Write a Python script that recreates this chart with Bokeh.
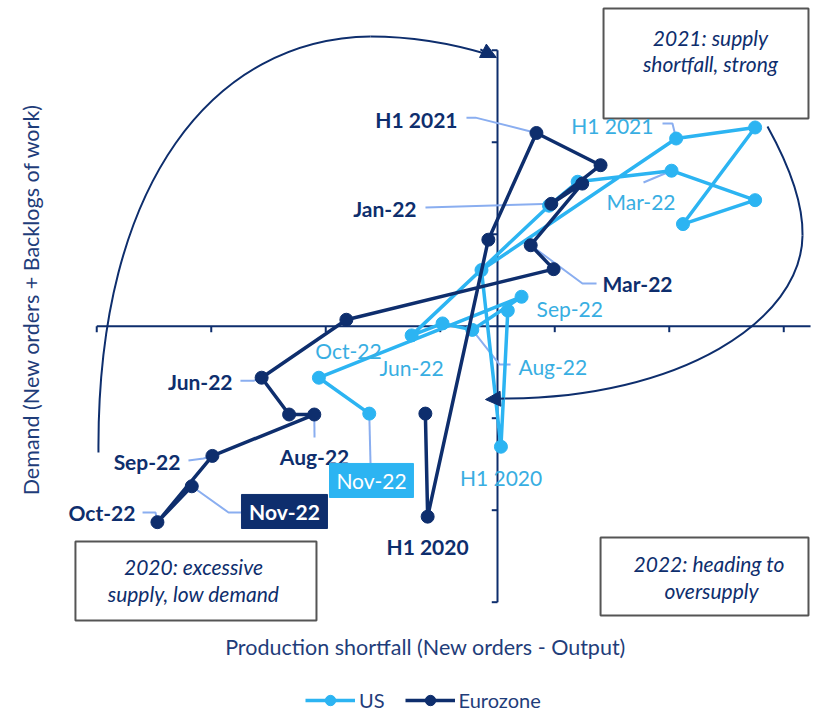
from bokeh.plotting import figure
from bokeh.models import Range1d, Legend, LegendItem, Arrow, NormalHead
from bokeh.core.properties import value
from bokeh.embed import file_html
from bokeh.resources import INLINE

# ---------------- data ----------------
periods = ["H2 2019", "H1 2020", "H2 2020", "H1 2021", "H2 2021", "Jan-22", "Feb-22",
           "Mar-22", "Apr-22", "May-22", "Jun-22", "Jul-22", "Aug-22", "Sep-22",
           "Oct-22", "Nov-22"]

# x: production shortfall (new orders - output), y: demand (new orders + backlogs)
us_x = [0.09, 0.03, -0.14, 1.56, 2.25, 1.62, 2.25, 1.52, 0.70, 0.45,
        -0.75, -0.48, -0.22, 0.21, -1.56, -1.12]
us_y = [0.17, -1.31, 0.61, 2.04, 2.16, 1.11, 1.37, 1.69, 1.57, 1.31,
        -0.10, 0.03, -0.04, 0.32, -0.56, -0.95]

ez_x = [-0.63, -0.61, -0.08, 0.34, 0.90, 0.47, 0.74, 0.29, 0.49, -1.32,
        -2.06, -1.82, -1.60, -2.49, -2.97, -2.67]
ez_y = [-0.95, -2.07, 0.94, 2.10, 1.75, 1.33, 1.55, 0.88, 0.62, 0.07,
        -0.56, -0.96, -0.96, -1.41, -2.13, -1.74]

x_ticks = [-3.5, -2.5, -1.5, -0.5, 0.5, 1.5, 2.5]
y_ticks = [-3, -2, -1, 1, 2, 3]

series_names = ["US", "Eurozone"]
x_title = "Production shortfall (New orders - Output)"
y_title = "Demand (New orders + Backlogs of work)"

# ---------------- style ----------------
NAVY = "#0E2E6D"
LIGHT = "#2CB4F2"
LIGHT_TXT = "#38AEE2"
LEADER = "#8AAEF0"
TITLE_C = "#1F3D7A"
FONT_NAME = "Lato"
FONT = value(FONT_NAME)
LBL = "21px"

p = figure(width=822, height=714, x_range=Range1d(-4.3406, 2.8384),
           y_range=Range1d(-4.2207, 3.5402), output_backend="svg",
           toolbar_location=None, x_axis_type=None, y_axis_type=None,
           min_border=0)
p.grid.visible = False
p.outline_line_color = None
p.background_fill_color = "white"

# ---------------- centre axes ----------------
x_end = 2.734
p.segment(x0=[-3.5], y0=[0], x1=[x_end], y1=[0], line_color=NAVY, line_width=2)
p.segment(x0=[0], y0=[y_ticks[0]], x1=[0], y1=[y_ticks[-1]], line_color=NAVY, line_width=2)
p.segment(x0=x_ticks, y0=[0] * len(x_ticks), x1=x_ticks, y1=[-0.065] * len(x_ticks),
          line_color=NAVY, line_width=2)
p.segment(x0=[0] * len(y_ticks), y0=y_ticks, x1=[-0.05] * len(y_ticks), y1=y_ticks,
          line_color=NAVY, line_width=2)

# ---------------- cycle arrows ----------------
p.bezier(x0=[-3.485, -1.109], y0=[-1.373, 3.149], x1=[-1.109, -0.079], y1=[3.149, 2.953],
         cx0=[-3.502, -0.672], cy0=[1.584, 3.149], cx1=[-2.463, -0.341], cy1=[3.127, 3.051],
         line_color=NAVY, line_width=2)
p.add_layout(Arrow(end=NormalHead(size=15, fill_color=NAVY, line_color=NAVY),
                   x_start=-0.15, y_start=3.008, x_end=-0.01, y_end=2.92,
                   line_color=NAVY, line_width=2))
p.bezier(x0=[2.358, 2.664], y0=[2.171, 0.986], x1=[2.664, 0.052], y1=[0.986, -0.786],
         cx0=[2.489, 2.655], cy0=[1.877, 0.062], cx1=[2.672, 1.598], cy1=[1.421, -0.786],
         line_color=NAVY, line_width=2)
p.add_layout(Arrow(end=NormalHead(size=15, fill_color=NAVY, line_color=NAVY),
                   x_start=0.06, y_start=-0.786, x_end=-0.105, y_end=-0.797,
                   line_color=NAVY, line_width=2))

# ---------------- regime boxes ----------------
p.quad(left=[0.926, -3.686, 0.900], right=[2.716, -1.581, 2.716],
       top=[3.453, -2.340, -2.297], bottom=[2.258, -3.199, -3.144],
       fill_color="white", line_color="#555555", line_width=2)


def txt(x, y, s, color=NAVY, size=LBL, style="normal", align="center"):
    p.text(x=[x], y=[y], text=[s], text_font=FONT, text_font_size=value(size),
           text_font_style=style, text_color=color, text_align=align,
           text_baseline="middle")


for (bx, by, s) in [(1.860, 3.138, "2021: supply"), (1.860, 2.855, "shortfall, strong"),
                    (-2.655, -2.616, "2020: excessive"), (-2.655, -2.910, "supply, low demand"),
                    (1.869, -2.584, "2022:  heading to"), (1.869, -2.873, "oversupply")]:
    txt(bx, by, s, style="italic", size="21px")

# axis titles
txt(-0.629, -3.492, x_title, color=TITLE_C, size="21.5px")
p.text(x=[-4.07], y=[0.29], text=[y_title], text_font=FONT, text_font_size=value("21.5px"),
       text_color=TITLE_C, text_align="center", text_baseline="middle", angle=1.5708)

# ---------------- leader lines ----------------
def leader(pts, idx, xs, ys):
    lx = [q[0] for q in pts] + [xs[idx]]
    ly = [q[1] for q in pts] + [ys[idx]]
    p.line(lx, ly, line_color=LEADER, line_width=2)


i = periods.index
leader([(-0.271, 2.267), (-0.192, 2.267)], i("H1 2021"), ez_x, ez_y)
leader([(-0.629, 1.290)], i("Jan-22"), ez_x, ez_y)
leader([(0.865, 0.464), (0.742, 0.464)], i("Mar-22"), ez_x, ez_y)
leader([(-2.245, -0.594), (-2.131, -0.594)], i("Jun-22"), ez_x, ez_y)
leader([(-1.598, -1.210)], i("Aug-22"), ez_x, ez_y)
leader([(-2.699, -1.460), (-2.568, -1.438)], i("Sep-22"), ez_x, ez_y)
leader([(-3.100, -2.025), (-2.987, -2.025)], i("Oct-22"), ez_x, ez_y)
leader([(-2.236, -2.025), (-2.349, -2.025)], i("Nov-22"), ez_x, ez_y)
leader([(1.441, 2.203), (1.528, 2.203)], i("H1 2021"), us_x, us_y)
leader([(1.275, 1.562)], i("Mar-22"), us_x, us_y)
leader([(0.114, -0.416), (0.017, -0.416)], i("Aug-22"), us_x, us_y)
leader([(-1.109, -1.492)], i("Nov-22"), us_x, us_y)

# ---------------- series ----------------
us_line = p.line(us_x, us_y, line_color=LIGHT, line_width=3.5)
us_pts = p.scatter(us_x, us_y, size=13, fill_color=LIGHT, line_color=LIGHT)
ez_line = p.line(ez_x, ez_y, line_color=NAVY, line_width=3.5)
ez_pts = p.scatter(ez_x, ez_y, size=13, fill_color=NAVY, line_color=NAVY)

# ---------------- point labels ----------------
for (lx, ly, s, al) in [(-0.349, 2.246, "H1 2021", "right"), (-0.707, 1.279, "Jan-22", "right"),
                        (0.917, 0.464, "Mar-22", "left"), (-2.314, -0.601, "Jun-22", "right"),
                        (-1.598, -1.416, "Aug-22", "center"), (-2.769, -1.470, "Sep-22", "right"),
                        (-3.162, -2.025, "Oct-22", "right"), (-0.611, -2.399, "H1 2020", "center")]:
    txt(lx, ly, s, color=NAVY, style="bold", align=al)

for (lx, ly, s, al) in [(1.362, 2.181, "H1 2021", "right"), (0.952, 1.356, "Mar-22", "left"),
                        (0.341, 0.192, "Sep-22", "left"), (0.183, -0.437, "Aug-22", "left"),
                        (-0.751, -0.449, "Jun-22", "center"), (-1.301, -0.264, "Oct-22", "center"),
                        (0.031, -1.645, "H1 2020", "center")]:
    txt(lx, ly, s, color=LIGHT_TXT, align=al)

# highlighted latest points
p.quad(left=[-2.236], right=[-1.485], top=[-1.829], bottom=[-2.199],
       fill_color=NAVY, line_color=NAVY)
txt(-1.860, -2.014, "Nov-22", color="white", style="bold")
p.quad(left=[-1.467], right=[-0.734], top=[-1.492], bottom=[-1.862],
       fill_color=LIGHT, line_color=LIGHT)
txt(-1.100, -1.677, "Nov-22", color="white")

# ---------------- legend ----------------
legend = Legend(items=[LegendItem(label=series_names[0], renderers=[us_line, us_pts]),
                       LegendItem(label=series_names[1], renderers=[ez_line, ez_pts])],
                orientation="horizontal", location=(305, 1), padding=0, margin=0,
                spacing=20, glyph_width=50, glyph_height=26, label_standoff=4,
                label_text_font=FONT_NAME, label_text_font_size="20px",
                label_text_color=TITLE_C, border_line_color=None,
                background_fill_alpha=0)
p.add_layout(legend)

open("out.html", "w").write(file_html(p, INLINE))
